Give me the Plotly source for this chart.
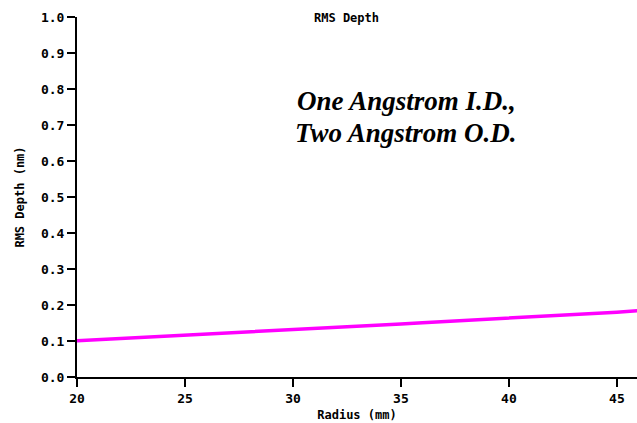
import plotly.graph_objects as go

# RMS depth profile across the disk radius
radius_mm = [20, 21, 22, 23, 24, 25, 26, 27, 28, 29, 30, 31, 32, 33,
             34, 35, 36, 37, 38, 39, 40, 41, 42, 43, 44, 45, 46]
rms_depth_nm = [0.101, 0.104, 0.107, 0.110, 0.113, 0.116, 0.118, 0.121,
                0.124, 0.127, 0.130, 0.133, 0.137, 0.141, 0.144, 0.147,
                0.151, 0.154, 0.157, 0.160, 0.163, 0.166, 0.169, 0.173,
                0.176, 0.180, 0.184]

x_ticks = [20, 25, 30, 35, 40, 45]
y_ticks = [0.0, 0.1, 0.2, 0.3, 0.4, 0.5, 0.6, 0.7, 0.8, 0.9, 1.0]

mono = dict(family="DejaVu Sans Mono", size=13, color="black", weight="bold")
mono_small = dict(family="DejaVu Sans Mono", size=12, color="black", weight="bold")
serif = dict(family="Liberation Serif", size=27, color="black", weight="bold")

fig = go.Figure()
fig.add_trace(go.Scatter(
    x=radius_mm, y=rms_depth_nm, mode="lines",
    line=dict(color="#ff00ff", width=3.5),
    showlegend=False, hoverinfo="skip",
))

fig.update_layout(
    width=637, height=423,
    margin=dict(l=77, r=0, t=17, b=46),
    paper_bgcolor="white", plot_bgcolor="white",
    xaxis=dict(
        range=[20, 45.93], tickvals=x_ticks,
        ticktext=[str(v) for v in x_ticks],
        showline=True, linecolor="black", linewidth=2,
        ticks="outside", ticklen=8, tickwidth=2, tickcolor="black",
        showgrid=False, zeroline=False, tickfont=mono,
        title=dict(text="Radius (mm)", font=mono_small, standoff=6),
    ),
    yaxis=dict(
        range=[0, 1.0], tickvals=y_ticks,
        ticktext=[f"{v:.1f}" for v in y_ticks],
        showline=True, linecolor="black", linewidth=2,
        ticks="outside", ticklen=8, tickwidth=2, tickcolor="black",
        showgrid=False, zeroline=False, tickfont=mono,
        title=dict(text="RMS Depth (nm)", font=mono_small, standoff=14),
    ),
    annotations=[
        dict(text="RMS Depth", x=346, y=18, font=mono_small),
        dict(text="<i>One Angstrom I.D.,</i>", x=406, y=101, font=serif),
        dict(text="<i>Two Angstrom O.D.</i>", x=406, y=133, font=serif),
    ],
)

# Place the free-text labels in pixel coordinates of the page
W, H = 637, 423
ml, mr, mt, mb = 77, 0, 17, 46
pw, ph = W - ml - mr, H - mt - mb
for ann in fig.layout.annotations:
    px, py = ann.x, ann.y
    ann.xref = "paper"
    ann.yref = "paper"
    ann.showarrow = False
    ann.x = (px - ml) / pw
    ann.y = 1 - (py - mt) / ph
    ann.xanchor = "center"
    ann.yanchor = "middle"

fig.write_html("out.html")
